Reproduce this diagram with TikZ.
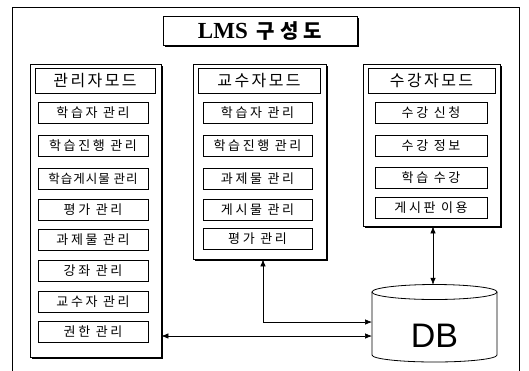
\documentclass[tikz,border=0pt]{standalone}
\usepackage{fontspec}
\setmainfont{Liberation Sans}
\newfontfamily\kr[LetterSpace=20]{Noto Sans CJK KR}
\newfontfamily\krn[LetterSpace=8]{Noto Sans CJK KR}
\newfontfamily\krh[LetterSpace=15]{Noto Sans CJK KR}
\newfontfamily\krt[LetterSpace=25]{Noto Sans CJK KR}
\newfontfamily\ttlfont{Liberation Serif}
\usetikzlibrary{arrows.meta,shadows}
\begin{document}
\begin{tikzpicture}[x=1pt,y=-1pt,
  panel/.style={draw,line width=0.8pt,fill=white,inner sep=0,
    drop shadow={shadow xshift=1.6pt,shadow yshift=-1.6pt,fill=black,opacity=1}},
  hdr/.style={draw,line width=0.7pt,inner sep=0,minimum height=25pt,
    font=\krh\fontsize{16}{16}\selectfont},
  item/.style={draw,line width=0.7pt,inner sep=0,minimum height=21pt,
    font=\kr\fontsize{13}{13}\selectfont},
  link/.style={line width=0.7pt,{Latex[length=7pt,width=5.5pt]}-{Latex[length=7pt,width=5.5pt]}}
]
\useasboundingbox (0,0) rectangle (529,370);
% outer frame (open at the bottom edge of the picture)
\draw[line width=0.7pt] (12,372) -- (12,7) -- (519,7) -- (519,372);

% title
\node[panel,minimum width=194pt,minimum height=29pt] (title) at (260,31)
  {{\ttlfont\bfseries\fontsize{23}{23}\selectfont LMS}\hspace{9pt}{\krt\bfseries\fontsize{20}{20}\selectfont 구성도}};

% panels
\node[panel,minimum width=131pt,minimum height=293pt] (lp) at (95.5,211) {};
\node[panel,minimum width=133pt,minimum height=195pt] (mp) at (259.5,161.5) {};
\node[panel,minimum width=137pt,minimum height=162pt] (rp) at (431.5,145) {};

% headers
\node[hdr,minimum width=120pt] (lh) at (95,80.5) {관리자모드};
\node[hdr,minimum width=122pt] (mh) at (259,80.5) {교수자모드};
\node[hdr,minimum width=127pt] (rh) at (431.5,80.5) {수강자모드};

% left items
\node[item,minimum width=110pt] (l1) at (93,113) {학습자 관리};
\node[item,minimum width=110pt] (l2) at (93,146) {학습진행 관리};
\node[item,minimum width=110pt,font=\krn\fontsize{12.5}{12.5}\selectfont] (l3) at (93,179) {학습게시물 관리};
\node[item,minimum width=110pt] (l4) at (93,210) {평가 관리};
\node[item,minimum width=110pt] (l5) at (93,240) {과제물 관리};
\node[item,minimum width=110pt] (l6) at (93,271) {강좌 관리};
\node[item,minimum width=110pt] (l7) at (93,302) {교수자 관리};
\node[item,minimum width=110pt] (l8) at (93,332) {권한 관리};

% middle items
\node[item,minimum width=109pt] (m1) at (257.5,113) {학습자 관리};
\node[item,minimum width=109pt] (m2) at (257.5,146) {학습진행 관리};
\node[item,minimum width=109pt] (m3) at (257.5,179) {과제물 관리};
\node[item,minimum width=109pt] (m4) at (257.5,210) {게시물 관리};
\node[item,minimum width=109pt] (m5) at (257.5,239) {평가 관리};

% right items
\node[item,minimum width=112pt] (r1) at (431,113) {수강 신청};
\node[item,minimum width=112pt] (r2) at (431,146) {수강 정보};
\node[item,minimum width=112pt] (r3) at (431,178) {학습 수강};
\node[item,minimum width=112pt] (r4) at (431,208) {게시판 이용};

% database
\node[inner sep=0,minimum width=125pt,minimum height=77pt] (db) at (434.5,323.5) {};
\draw[line width=0.8pt] (434.5,292) ellipse [x radius=62.5pt,y radius=7.5pt];
\draw[line width=0.8pt] (372,292) -- (372,355)
  arc[start angle=180,end angle=360,x radius=62.5pt,y radius=7pt] -- (497,292);
\node[font=\fontsize{34}{34}\selectfont] (dbt) at (434.5,336) {DB};

\coordinate (dbin1) at (372,322);
\coordinate (dbin2) at (372,336);

% connectors
\draw[link] ([xshift=1.5pt]rp.south) -- ([xshift=1.5pt]rp.south |- db.north);
\draw[link] ([xshift=3.5pt]mp.south) |- (dbin1);
\draw[link] (lp.east |- dbin2) -- (dbin2);
\end{tikzpicture}
\end{document}
